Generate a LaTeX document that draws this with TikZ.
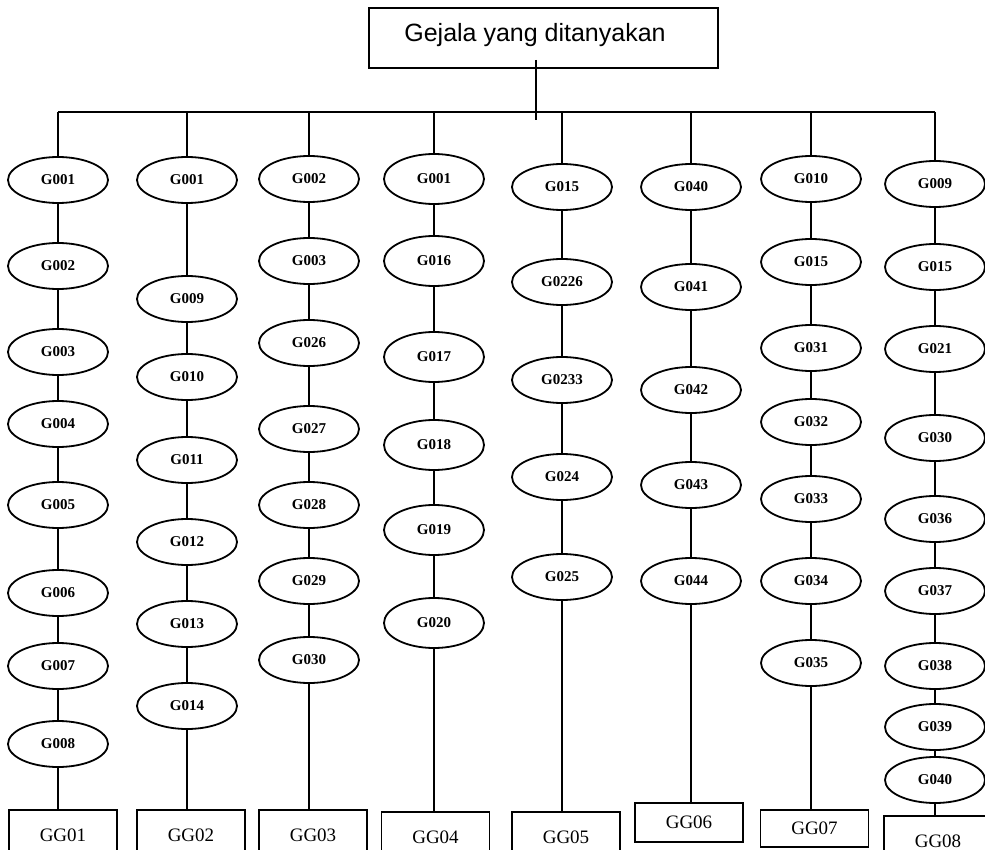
\documentclass[tikz,border=0pt]{standalone}
\usepackage{fontspec}
\setmainfont{Liberation Serif}
\newfontfamily\headfont{Liberation Sans}
\usetikzlibrary{shapes.geometric}

% one column of symptom ellipses: #1 index, #2 x position, #3 label/y list, #4 extra ellipse options
\newcommand\symptomcolumn[4]{%
  \foreach \lab/\yy [count=\k] in {#3} {
    \node[gej,#4] (c#1n\k) at (#2,\yy) {\lab};
    \xdef\lastidx{\k}
  }
  \foreach \k in {2,...,\lastidx} {
    \pgfmathtruncatemacro\prev{\k-1}
    \draw[link] (c#1n\prev) -- (c#1n\k);
  }
  \coordinate (bar#1) at (#2,112);
  \draw[link] (bar#1) -- (c#1n1);
  \draw[link] (c#1n\lastidx) -- (c#1n\lastidx |- gg#1.north);
}

\begin{document}
\begin{tikzpicture}[x=1pt,y=-1pt,
  gej/.style={draw, ellipse, line width=1.8pt, minimum width=100pt, minimum height=46pt,
    inner sep=0pt, font=\bfseries\fontsize{15}{18}\selectfont},
  ggbox/.style={draw, rectangle, line width=1.8pt, minimum width=108pt, minimum height=50pt,
    inner sep=0pt, font=\fontsize{19}{22}\selectfont},
  link/.style={line width=1.9pt}]
\useasboundingbox (0,0) rectangle (985,850);
\clip (0,0) rectangle (985,850);

% root box
\node[draw, line width=1.8pt, minimum width=349pt, minimum height=60pt, inner sep=0pt] (top) at (543.5,38) {};
\node[font=\headfont\fontsize{25}{30}\selectfont, inner sep=0pt] (toptitle) at (535,35) {Gejala yang ditanyakan};
\coordinate (stemtop) at (536,60);
\coordinate (stemfoot) at (536,120);
\draw[link] (stemtop) -- (stemfoot);

% result boxes
\node[ggbox] (gg1) at (63,835) {GG01};
\node[ggbox] (gg2) at (191,835) {GG02};
\node[ggbox] (gg3) at (313,835) {GG03};
\node[ggbox] (gg4) at (435.5,837) {GG04};
\node[ggbox] (gg5) at (566,837) {GG05};
\node[ggbox, minimum height=39pt] (gg6) at (689,822.5) {GG06};
\node[ggbox, minimum height=37pt] (gg7) at (814.5,828.5) {GG07};
\node[ggbox] (gg8) at (938,841) {GG08};

% symptom columns
\symptomcolumn{1}{58}{G001/180,G002/266,G003/352,G004/424,G005/505,G006/593,G007/666,G008/744}{}
\symptomcolumn{2}{187}{G001/180,G009/299,G010/377,G011/460,G012/542,G013/624,G014/706}{}
\symptomcolumn{3}{309}{G002/179,G003/261,G026/343,G027/429,G028/505,G029/581,G030/660}{}
\symptomcolumn{4}{434}{G001/179,G016/261,G017/357,G018/445,G019/530,G020/623}{minimum height=50pt}
\symptomcolumn{5}{562}{G015/187,G0226/282,G0233/380,G024/477,G025/577}{}
\symptomcolumn{6}{691}{G040/187,G041/287,G042/390,G043/485,G044/581}{}
\symptomcolumn{7}{811}{G010/179,G015/262,G031/348,G032/422,G033/499,G034/581,G035/663}{}
\symptomcolumn{8}{935}{G009/184,G015/267,G021/349,G030/438,G036/519,G037/591,G038/666,G039/727,G040/780}{}

% horizontal distribution bar
\draw[link] (bar1) -- (bar8);
\end{tikzpicture}
\end{document}
